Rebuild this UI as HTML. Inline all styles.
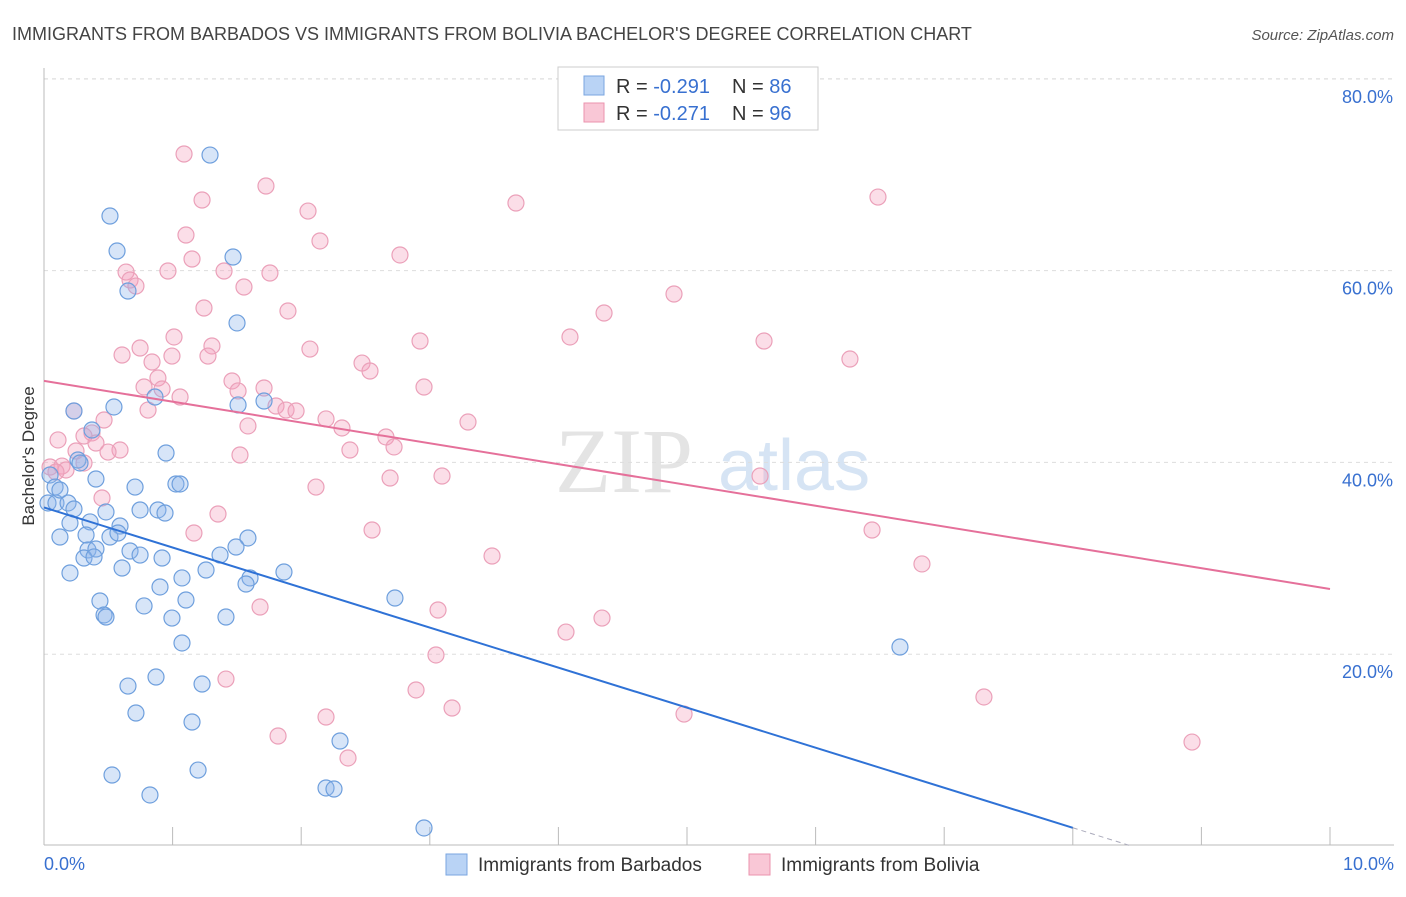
<!DOCTYPE html>
<html><head><meta charset="utf-8"><style>
body{margin:0;background:#fff;font-family:"Liberation Sans",sans-serif;}
</style></head><body>
<svg width="1406" height="892" xmlns="http://www.w3.org/2000/svg" font-family="Liberation Sans, sans-serif">
<text x="12" y="40" font-size="18" fill="#444">IMMIGRANTS FROM BARBADOS VS IMMIGRANTS FROM BOLIVIA BACHELOR'S DEGREE CORRELATION CHART</text>
<text x="1394" y="40" font-size="15" fill="#555" font-style="italic" text-anchor="end">Source: ZipAtlas.com</text>
<text x="555" y="492" font-size="92" fill="#e4e4e4" font-family="Liberation Serif, serif">ZIP</text>
<text x="718" y="490" font-size="72" fill="#d6e4f4">atlas</text>
<g id="grid"></g>
<g id="axes"></g>
<text transform="translate(34,456) rotate(-90)" font-size="17" fill="#333" text-anchor="middle">Bachelor's Degree</text>
<g id="pts"></g>
<g id="lines"></g>
<g>
<rect x="558" y="67" width="260" height="63" fill="#fff" stroke="#ccc"/>
<rect x="584" y="76" width="20" height="19" fill="#b9d3f5" stroke="#7aa6e0"/>
<rect x="584" y="103" width="20" height="19" fill="#f9c7d6" stroke="#eb93ae"/>
<text x="616" y="93" font-size="20" fill="#333">R = <tspan fill="#3870d0">-0.291</tspan></text>
<text x="732" y="93" font-size="20" fill="#333">N = <tspan fill="#3870d0">86</tspan></text>
<text x="616" y="120" font-size="20" fill="#333">R = <tspan fill="#3870d0">-0.271</tspan></text>
<text x="732" y="120" font-size="20" fill="#333">N = <tspan fill="#3870d0">96</tspan></text>
</g>
<g>
<rect x="446" y="854" width="21" height="21" fill="#b9d3f5" stroke="#7aa6e0"/>
<text x="478" y="871" font-size="19" fill="#333">Immigrants from Barbados</text>
<rect x="749" y="854" width="21" height="21" fill="#f9c7d6" stroke="#eb93ae"/>
<text x="781" y="871" font-size="19" fill="#333">Immigrants from Bolivia</text>
</g>
</svg>
<script>
const yTicks=[20,40,60,80];
const yTickLabels=["20.0%","40.0%","60.0%","80.0%"];
const xTicks=[0,1,2,3,4,5,6,7,8,9,10];
const bluePx=[[110,216],[117,251],[128,291],[210,155],[233,257],[237,323],[238,405],[264,401],[114,407],[74,411],[92,430],[78,460],[80,463],[166,453],[176,484],[180,484],[50,475],[55,487],[96,479],[48,503],[56,503],[68,503],[74,509],[106,512],[140,510],[158,510],[165,513],[90,522],[70,523],[120,526],[60,537],[86,535],[110,537],[118,533],[248,538],[236,547],[88,550],[96,549],[130,551],[140,555],[162,558],[220,555],[84,558],[94,557],[122,568],[206,570],[182,578],[250,578],[246,584],[284,572],[70,573],[160,587],[100,601],[144,606],[186,600],[104,615],[106,617],[172,618],[226,617],[182,643],[395,598],[900,647],[128,686],[156,677],[202,684],[136,713],[192,722],[340,741],[112,775],[198,770],[150,795],[326,788],[334,789],[424,828],[155,397],[135,487],[60,490]];
const pinkPx=[[184,154],[202,200],[266,186],[308,211],[516,203],[878,197],[186,235],[320,241],[400,255],[192,259],[224,271],[270,273],[168,271],[126,272],[130,280],[136,286],[244,287],[674,294],[204,308],[288,311],[604,313],[570,337],[174,337],[420,341],[764,341],[140,348],[122,355],[212,346],[310,349],[172,356],[208,356],[152,362],[362,363],[370,371],[850,359],[158,378],[232,381],[144,387],[162,389],[264,388],[238,391],[424,387],[180,397],[148,410],[276,406],[286,410],[296,411],[326,419],[74,411],[104,420],[92,433],[58,440],[84,436],[96,443],[342,428],[248,426],[468,422],[386,437],[394,447],[120,450],[108,452],[76,451],[240,455],[350,450],[84,463],[62,466],[66,470],[50,467],[56,472],[102,498],[316,487],[390,478],[442,476],[760,476],[218,514],[194,533],[372,530],[872,530],[492,556],[922,564],[260,607],[438,610],[602,618],[566,632],[436,655],[226,679],[416,690],[452,708],[984,697],[326,717],[684,714],[278,736],[348,758],[1192,742]];
const blueData=bluePx.map(p=>[+((p[0]-44)/128.6).toFixed(3),+((846-p[1])/9.59).toFixed(2)]);
const pinkData=pinkPx.map(p=>[+((p[0]-44)/128.6).toFixed(3),+((846-p[1])/9.59).toFixed(2)]);
const blueTrend=[[0,35.3],[8,1.9]];
const pinkTrend=[[0,48.5],[10,26.8]];
const NS="http://www.w3.org/2000/svg";
const X=v=>44+v*128.6, Y=v=>846-v*9.59;
function mk(t,a,parent){const e=document.createElementNS(NS,t);for(const k in a)e.setAttribute(k,a[k]);document.getElementById(parent).appendChild(e);return e;}
yTicks.forEach((t,i)=>{
 const g=mk('line',{x1:44,x2:1394,y1:Y(t),y2:Y(t),stroke:'#ddd','stroke-dasharray':'4,4'},'grid');
 
 
 const l=mk('text',{x:1393,y:Y(t)+24,'font-size':18,fill:'#3870d0','text-anchor':'end'},'axes');
 l.textContent=yTickLabels[i];
 
 
});
const topGrid=mk('line',{x1:44,x2:1394,y1:79,y2:79,stroke:'#ddd','stroke-dasharray':'4,4'},'grid');


const ax=mk('line',{x1:44,x2:1394,y1:845,y2:845,stroke:'#bbb'},'axes');


const ay=mk('line',{x1:44,x2:44,y1:68,y2:845,stroke:'#bbb'},'axes');


xTicks.forEach(t=>{const e=mk('line',{x1:X(t),x2:X(t),y1:827,y2:845,stroke:'#bbb'},'axes');
 
 });
const xl0=mk('text',{x:44,y:870,'font-size':18,fill:'#3870d0'},'axes');xl0.textContent='0.0%';


const xl1=mk('text',{x:1394,y:870,'font-size':18,fill:'#3870d0','text-anchor':'end'},'axes');xl1.textContent='10.0%';


pinkData.forEach(d=>{const c=mk('circle',{cx:X(d[0]),cy:Y(d[1]),r:8,fill:'rgba(244,160,190,0.35)',stroke:'#eba0b9','stroke-width':1.2},'pts');
 
 });
blueData.forEach(d=>{const c=mk('circle',{cx:X(d[0]),cy:Y(d[1]),r:8,fill:'rgba(140,180,235,0.35)',stroke:'#6e9fdd','stroke-width':1.2},'pts');
 
 });
const bl=mk('line',{x1:X(blueTrend[0][0]),y1:Y(blueTrend[0][1]),x2:X(blueTrend[1][0]),y2:Y(blueTrend[1][1]),stroke:'#2f72d6','stroke-width':2},'lines');


const slope=(blueTrend[1][1]-blueTrend[0][1])/(blueTrend[1][0]-blueTrend[0][0]);
const xe=-blueTrend[0][1]/slope;
const bd=mk('line',{x1:X(blueTrend[1][0]),y1:Y(blueTrend[1][1]),x2:X(xe),y2:Y(0),stroke:'#aab','stroke-width':1,'stroke-dasharray':'5,4'},'lines');


const pl=mk('line',{x1:X(pinkTrend[0][0]),y1:Y(pinkTrend[0][1]),x2:X(pinkTrend[1][0]),y2:Y(pinkTrend[1][1]),stroke:'#e5709a','stroke-width':2},'lines');


</script>
</body></html>
